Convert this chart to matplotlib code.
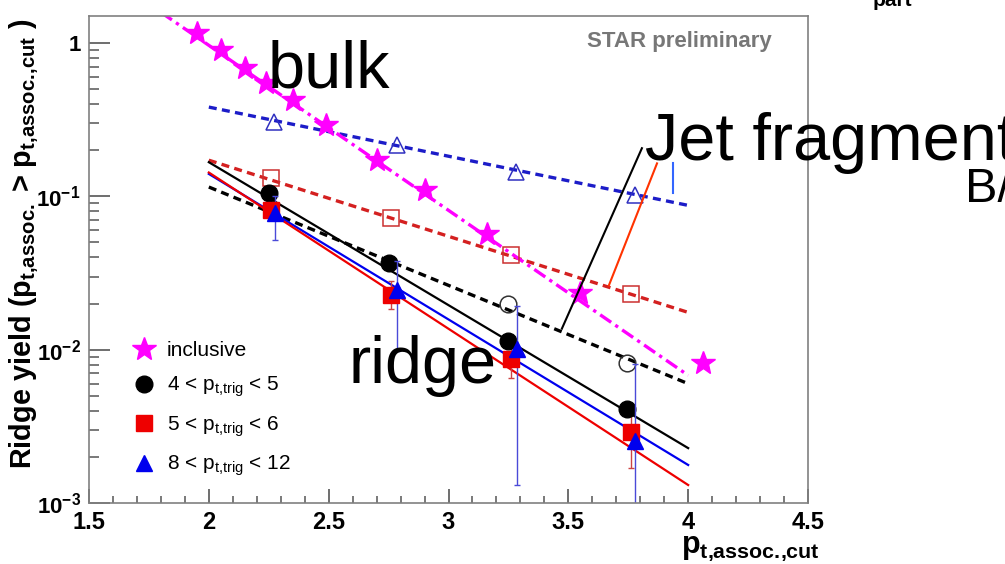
import matplotlib
matplotlib.use("Agg")
import matplotlib.pyplot as plt
from matplotlib.lines import Line2D
from matplotlib.ticker import FixedLocator, FixedFormatter, NullFormatter
import numpy as np

plt.rcParams['font.family'] = ['Liberation Sans', 'DejaVu Sans']
plt.rcParams['mathtext.fontset'] = 'custom'
plt.rcParams['mathtext.rm'] = 'Liberation Sans'
plt.rcParams['mathtext.bf'] = 'Liberation Sans:bold'
plt.rcParams['mathtext.it'] = 'Liberation Sans'

# inclusive (stars)
incl_x = [1.95, 2.05, 2.15, 2.24, 2.35, 2.49, 2.70, 2.90, 3.16, 3.55, 4.06]
incl_y = [1.16, 0.90, 0.686, 0.548, 0.424, 0.291, 0.172, 0.11, 0.057, 0.0233, 0.0082]

# filled points (ridge)
trig45_x = [2.25, 2.75, 3.25, 3.745]
trig45_y = [0.105, 0.037, 0.0114, 0.0041]
trig56_x = [2.26, 2.76, 3.26, 3.76]
trig56_y = [0.081, 0.0226, 0.0087, 0.0029]
trig56_lo = [0.070, 0.0185, 0.0065, 0.0017]
trig56_hi = [0.092, 0.028, 0.011, 0.0043]
trig812_x = [2.275, 2.785, 3.285, 3.78]
trig812_y = [0.0774, 0.0244, 0.0101, 0.00255]
trig812_lo = [0.0516, 0.0098, 0.00131, 0.0004]
trig812_hi = [0.10, 0.038, 0.0194, 0.0081]

# open points (jet fragment)
open45_x = [3.25, 3.745]
open45_y = [0.020, 0.0082]
open56_x = [2.26, 2.76, 3.26, 3.76]
open56_y = [0.131, 0.072, 0.0412, 0.0229]
open812_x = [2.27, 2.785, 3.28, 3.78]
open812_y = [0.305, 0.215, 0.144, 0.102]

# exponential fits: (x0, x1, y0, y1)
fit_incl = (1.80, 4.0, 1.585, 0.0068)
fit_open812 = (2.0, 4.0, 0.382, 0.0873)
fit_open56 = (2.0, 4.0, 0.172, 0.0175)
fit_open45 = (2.0, 4.0, 0.115, 0.0060)
fit_45 = (2.0, 4.0, 0.167, 0.00228)
fit_812 = (2.0, 4.0, 0.140, 0.00177)
fit_56 = (2.0, 4.0, 0.143, 0.00131)

# pointer lines overlaid on the slide (x0, x1, y0, y1)
ptr_black = (3.807, 3.473, 0.206, 0.0137)
ptr_red = (3.870, 3.669, 0.164, 0.0262)
ptr_blue = (3.936, 3.936, 0.164, 0.105)

W, H = 1005, 564
fig = plt.figure(figsize=(W / 100, H / 100), dpi=100)
ax = fig.add_axes([89 / W, 1 - 503 / H, (808 - 89) / W, (503 - 16) / H])
ax.set_xlim(1.5, 4.5)
ax.set_yscale('log')
ax.set_ylim(1e-3, 1.5)


def fit(p, **kw):
    ax.plot([p[0], p[1]], [p[2], p[3]], **kw)


fit(fit_open812, color='#1c1cc8', lw=2.4, ls=(0, (2.4, 1.6)))
fit(fit_open56, color='#d42020', lw=2.4, ls=(0, (2.4, 1.6)))
fit(fit_open45, color='black', lw=2.4, ls=(0, (2.4, 1.6)))
fit(fit_incl, color='#ff00ff', lw=2.4, ls=(0, (4, 1.5, 1, 1.5)))
fit(fit_45, color='black', lw=1.6)
fit(fit_812, color='#0000ee', lw=1.6)
fit(fit_56, color='#ee0000', lw=1.6)

ax.plot(open812_x, open812_y, ls='none', marker='^', ms=12, mfc='none', mec='#3030c0', mew=1.1)
ax.plot(open56_x, open56_y, ls='none', marker='s', ms=12, mfc='none', mec='#cc3030', mew=1.1)
ax.plot(open45_x, open45_y, ls='none', marker='o', ms=12, mfc='none', mec='#333333', mew=1.1)

ax.errorbar(trig56_x, trig56_y,
            yerr=[np.array(trig56_y) - np.array(trig56_lo), np.array(trig56_hi) - np.array(trig56_y)],
            ls='none', marker='s', ms=11, color='#ee0000', ecolor='#cc4444', elinewidth=1.0, capsize=2)
ax.plot(trig45_x, trig45_y, ls='none', marker='o', ms=12, color='black')
ax.errorbar(trig812_x, trig812_y,
            yerr=[np.array(trig812_y) - np.array(trig812_lo), np.array(trig812_hi) - np.array(trig812_y)],
            ls='none', marker='^', ms=11, color='#0000ee', ecolor='#4a4ad8', elinewidth=1.0, capsize=2)
ax.plot(incl_x, incl_y, ls='none', marker='*', ms=18, color='#ff00ff', clip_on=False)

fit(ptr_black, color='black', lw=1.5)
fit(ptr_red, color='#ff3300', lw=1.5)
fit(ptr_blue, color='#3366ff', lw=1.5)

# ROOT style frame and ticks
for s in ax.spines.values():
    s.set_color('#808080')
    s.set_linewidth(1.2)
ax.xaxis.set_major_locator(FixedLocator([1.5, 2, 2.5, 3, 3.5, 4, 4.5]))
ax.xaxis.set_major_formatter(FixedFormatter(['1.5', '2', '2.5', '3', '3.5', '4', '4.5']))
ax.xaxis.set_minor_locator(FixedLocator(np.arange(1.6, 4.45, 0.1)))
ax.yaxis.set_major_locator(FixedLocator([1e-3, 1e-2, 1e-1, 1]))
ax.yaxis.set_major_formatter(FixedFormatter([r'$\mathbf{10^{-3}}$', r'$\mathbf{10^{-2}}$',
                                             r'$\mathbf{10^{-1}}$', '1']))
ax.yaxis.set_minor_locator(FixedLocator([m * 10.0 ** e for e in (-3, -2, -1, 0) for m in range(2, 10)]))
ax.yaxis.set_minor_formatter(NullFormatter())
ax.tick_params(axis='x', which='major', direction='in', length=10, width=1.2, color='#555555',
               labelsize=17, pad=6)
ax.tick_params(axis='x', which='minor', direction='in', length=5, width=1.1, color='#555555')
ax.tick_params(axis='y', which='major', direction='in', length=15, width=1.2, color='#555555',
               labelsize=16, pad=6)
ax.tick_params(axis='y', which='minor', direction='in', length=7, width=1.1, color='#555555')
for lab in ax.get_xticklabels() + ax.get_yticklabels():
    lab.set_fontweight('bold')

# legend
handles = [
    Line2D([], [], ls='none', marker='*', ms=18, color='#ff00ff'),
    Line2D([], [], ls='none', marker='o', ms=12, color='black'),
    Line2D([], [], ls='none', marker='s', ms=11, color='#ee0000'),
    Line2D([], [], ls='none', marker='^', ms=12, color='#0000ee'),
]
labels = ['inclusive', r'4 < p$_{\mathregular{t{,}trig}}$ < 5', r'5 < p$_{\mathregular{t{,}trig}}$ < 6',
          r'8 < p$_{\mathregular{t{,}trig}}$ < 12']
ax.legend(handles, labels, loc='lower left', bbox_to_anchor=(0.047, 0.029), frameon=False,
          fontsize=15, handlelength=1.0, handletextpad=0.6, labelspacing=0.72, borderpad=0)

# axis titles
fig.text(24 / W, 1 - 18 / H,
         r'Ridge yield (p$_{\mathbf{t{,}assoc.}}$ > p$_{\mathbf{t{,}assoc.\!{,}cut}}$ )',
         rotation=90, ha='center', va='top', fontsize=20.8, fontweight='bold')
fig.text(820 / W, 1 - 548 / H, r'p$_{\mathbf{t{,}assoc.\!{,}cut}}$', ha='right', va='center',
         fontsize=22, fontweight='bold')
fig.text(587 / W, 1 - 41 / H, 'STAR preliminary', ha='left', va='center', fontsize=16,
         fontweight='bold', color='#777777')
fig.text(873 / W, 1 - 6 / H, 'part', ha='left', va='baseline', fontsize=15, fontweight='bold')

# slide annotations
fig.text(268 / W, 1 - 88 / H, 'bulk', ha='left', va='baseline', fontsize=48)
fig.text(348 / W, 1 - 383 / H, 'ridge', ha='left', va='baseline', fontsize=48)
fig.text(645 / W, 1 - 160 / H, 'Jet fragment', ha='left', va='baseline', fontsize=48)
fig.text(965 / W, 1 - 202 / H, 'B/A', ha='left', va='baseline', fontsize=35)

fig.savefig('out.png', dpi=100)
